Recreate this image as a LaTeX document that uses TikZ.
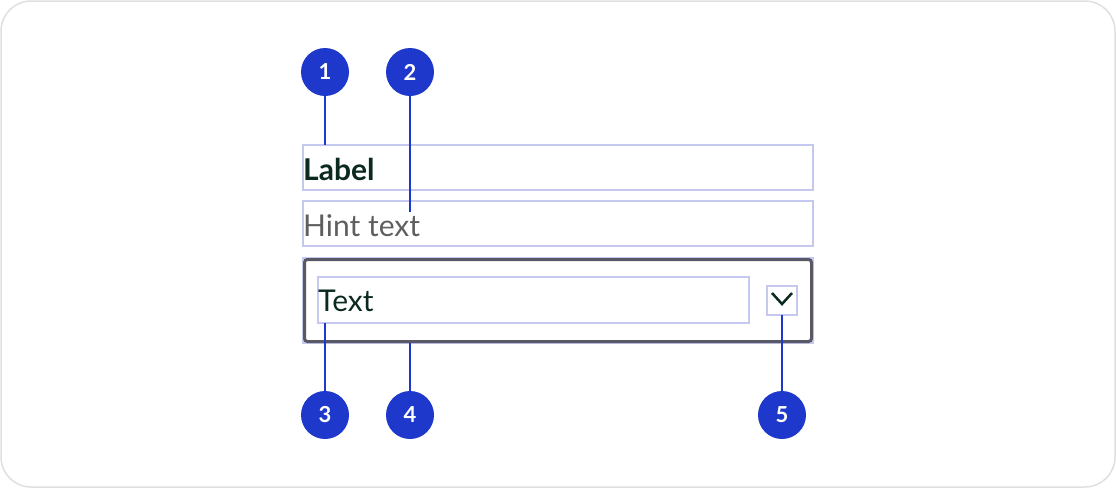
\documentclass[tikz,border=0pt]{standalone}
\usepackage{fontspec}
\setmainfont{Lato}
\usepackage{tikz}
\definecolor{callout}{HTML}{1F38CC}
\definecolor{guide}{HTML}{C5C9F0}
\definecolor{ink}{HTML}{0B2A1E}
\definecolor{hint}{HTML}{5F5F5F}
\definecolor{frame}{HTML}{5A5864}
\tikzset{
  marker/.style={circle, fill=callout, minimum size=48pt, inner sep=0pt, text=white, font=\fontsize{22}{24}\selectfont\bfseries},
  guidebox/.style={draw=guide, line width=1.5pt},
  leader/.style={callout, line width=1.5pt},
  field/.style={anchor=west, inner sep=0pt, font=\fontsize{30}{32}\selectfont}
}
\begin{document}
\begin{tikzpicture}[x=1pt, y=-1pt]
\useasboundingbox (0,0) rectangle (1116,488);
\draw [gray!25, line width=1.5pt, rounded corners=30pt] (1,1) rectangle (1115,487);
%
\draw [guidebox] (303,145) rectangle (813,190);
\draw [guidebox] (303,201) rectangle (813,246);
\draw [guidebox] (303,258) rectangle (813,343);
\draw [frame, line width=3pt, rounded corners=3pt] (304.5,259.5) rectangle (811.5,341.5);
\draw [guidebox] (318,277) rectangle (749,323);
\draw [guidebox] (767,286) rectangle (797,315);
\draw [ink, line width=2.5pt] (772,293) -- (782,304) -- (792,293);
%
\node [field, text=ink, font=\fontsize{30}{32}\selectfont\bfseries] (label) at (303,169) {Label};
\node [field, text=hint] (hinttext) at (303,226) {Hint text};
\node [field, text=ink] (value) at (318,301) {Text};
%
\coordinate (c1) at (325,145);
\coordinate (c2) at (410,212);
\coordinate (c3) at (325,323);
\coordinate (c4) at (410,343);
\coordinate (c5) at (782,315);
%
\node [marker] (m1) at (325,72) {1};
\node [marker] (m2) at (410,72) {2};
\node [marker] (m3) at (325,415) {3};
\node [marker] (m4) at (410,415) {4};
\node [marker] (m5) at (782,415) {5};
%
\draw [leader] (m1) -- (c1);
\draw [leader] (m2) -- (c2);
\draw [leader] (m3) -- (c3);
\draw [leader] (m4) -- (c4);
\draw [leader] (m5) -- (c5);
\end{tikzpicture}
\end{document}
